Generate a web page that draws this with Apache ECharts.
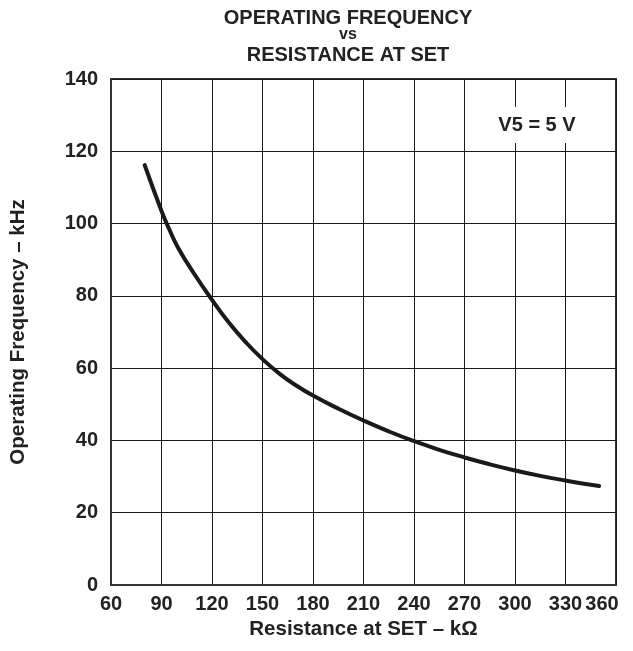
<!DOCTYPE html>
<html>
<head>
<meta charset="utf-8">
<script src="https://cdn.jsdelivr.net/npm/echarts@6/dist/echarts.min.js"></script>
<style>
html,body{margin:0;padding:0;background:#fff;}
#chart{width:633px;height:651px;}
</style>
</head>
<body>
<div id="chart"></div>
<script>
var resistance = [80, 90, 95, 100, 110, 120, 130, 140, 150, 160, 170, 180, 195, 210, 225, 240, 255, 270, 285, 300, 315, 330, 340, 350];
var frequency = [116.2, 103.5, 98, 93.2, 85.7, 78.9, 72.6, 67.2, 62.5, 58.5, 55.2, 52.4, 48.8, 45.5, 42.5, 39.8, 37.4, 35.3, 33.4, 31.7, 30.2, 28.9, 28.1, 27.4];
var xTicks = [60, 90, 120, 150, 180, 210, 240, 270, 300, 330, 360];
var yTicks = [0, 20, 40, 60, 80, 100, 120, 140];
var titleLines = ['OPERATING FREQUENCY', 'vs', 'RESISTANCE AT SET'];
var xName = 'Resistance at SET \u2013 k\u03A9';
var yName = 'Operating Frequency \u2013 kHz';
var annotation = 'V5 = 5 V';

var FONT = '"Liberation Sans", Arial, Helvetica, sans-serif';
var INK = '#222';

var chart = echarts.init(document.getElementById('chart'), null, {renderer: 'canvas'});
var points = resistance.map(function (r, i) { return [r, frequency[i]]; });
var xMax = xTicks[xTicks.length - 1];

chart.setOption({
  animation: false,
  backgroundColor: '#fff',
  grid: {left: 110, right: 17, top: 79, bottom: 66, show: true, borderColor: '#333', borderWidth: 2, backgroundColor: 'transparent'},
  graphic: [
    {type: 'text', style: {text: titleLines[0], x: 348, y: 18, align: 'center', verticalAlign: 'middle', font: 'bold 20px ' + FONT, fill: INK}},
    {type: 'text', style: {text: titleLines[1], x: 348, y: 34.5, align: 'center', verticalAlign: 'middle', font: 'bold 16px ' + FONT, fill: INK}},
    {type: 'text', style: {text: titleLines[2], x: 348, y: 55, align: 'center', verticalAlign: 'middle', font: 'bold 20px ' + FONT, fill: INK}},
    {type: 'text', z: 100, style: {text: annotation, x: 537, y: 125, align: 'center', verticalAlign: 'middle', font: 'bold 20px ' + FONT, fill: INK, backgroundColor: '#fff', padding: [8, 2]}}
  ],
  xAxis: {
    type: 'value', min: xTicks[0], max: xMax, interval: 30,
    name: xName, nameLocation: 'middle', nameGap: 33,
    nameTextStyle: {fontFamily: FONT, fontWeight: 'bold', fontSize: 20.5, color: INK},
    axisLine: {show: true, lineStyle: {color: '#333', width: 2}},
    axisTick: {show: false},
    axisLabel: {
      margin: 9, fontFamily: FONT, fontWeight: 'bold', fontSize: 20, color: INK,
      formatter: function (v) { return v === xMax ? '{last|' + v + '}' : String(v); },
      rich: {last: {fontFamily: FONT, fontWeight: 'bold', fontSize: 20, color: INK, padding: [0, 28, 0, 0]}}
    },
    splitLine: {show: true, lineStyle: {color: '#1a1a1a', width: 1}}
  },
  yAxis: {
    type: 'value', min: yTicks[0], max: yTicks[yTicks.length - 1], interval: 20,
    name: yName, nameLocation: 'middle', nameGap: 82,
    nameTextStyle: {fontFamily: FONT, fontWeight: 'bold', fontSize: 20.5, color: INK},
    axisLine: {show: true, lineStyle: {color: '#333', width: 2}},
    axisTick: {show: false},
    axisLabel: {margin: 13, fontFamily: FONT, fontWeight: 'bold', fontSize: 20, color: INK},
    splitLine: {show: true, lineStyle: {color: '#1a1a1a', width: 1}}
  },
  series: [{
    type: 'line', data: points, smooth: 0.5, showSymbol: false, symbol: 'none',
    lineStyle: {color: '#1a1a1a', width: 4, cap: 'round'}, z: 5
  }]
});
</script>
</body>
</html>
